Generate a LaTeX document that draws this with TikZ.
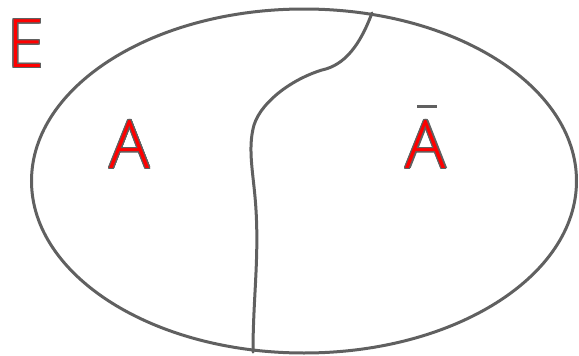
\documentclass[tikz,border=0pt]{standalone}
\usepackage{fontspec}
\setmainfont{Open Sans Light}
\usepackage{contour}
\contourlength{1.1pt}
\contournumber{24}
\usetikzlibrary{shapes.geometric}
\definecolor{edge}{HTML}{606060}
\definecolor{fillred}{HTML}{FF0000}
\begin{document}
\begin{tikzpicture}[x=1pt,y=-1pt,
  border/.style={draw=edge,line width=3pt},
  lab/.style={anchor=base,inner sep=0pt,font=\fontsize{67}{67}\selectfont}]
\useasboundingbox (0,0) rectangle (579,356);
\node[border,ellipse,minimum width=545pt,minimum height=344pt,inner sep=0pt] (E) at (304,181) {};
\draw[border,line cap=round] (372,13) .. controls (360,45) and (345,65) .. (322,70)
  .. controls (295,78) and (262,100) .. (254,125)
  .. controls (247,150) and (254,175) .. (256,210)
  .. controls (259,260) and (253,300) .. (253,352);
\node[lab] (e) at (26,67.5) {\contour{edge}{\textcolor{fillred}{E}}};
\node[lab] (a) at (130,168.5) {\contour{edge}{\textcolor{fillred}{A}}};
\node[lab] (abar) at (426,168.5) {\contour{edge}{\textcolor{fillred}{A}}};
\coordinate (b1) at (417,106.5);
\coordinate (b2) at (437,106.5);
\draw[edge,line width=3pt] (b1) -- (b2);
\end{tikzpicture}
\end{document}
